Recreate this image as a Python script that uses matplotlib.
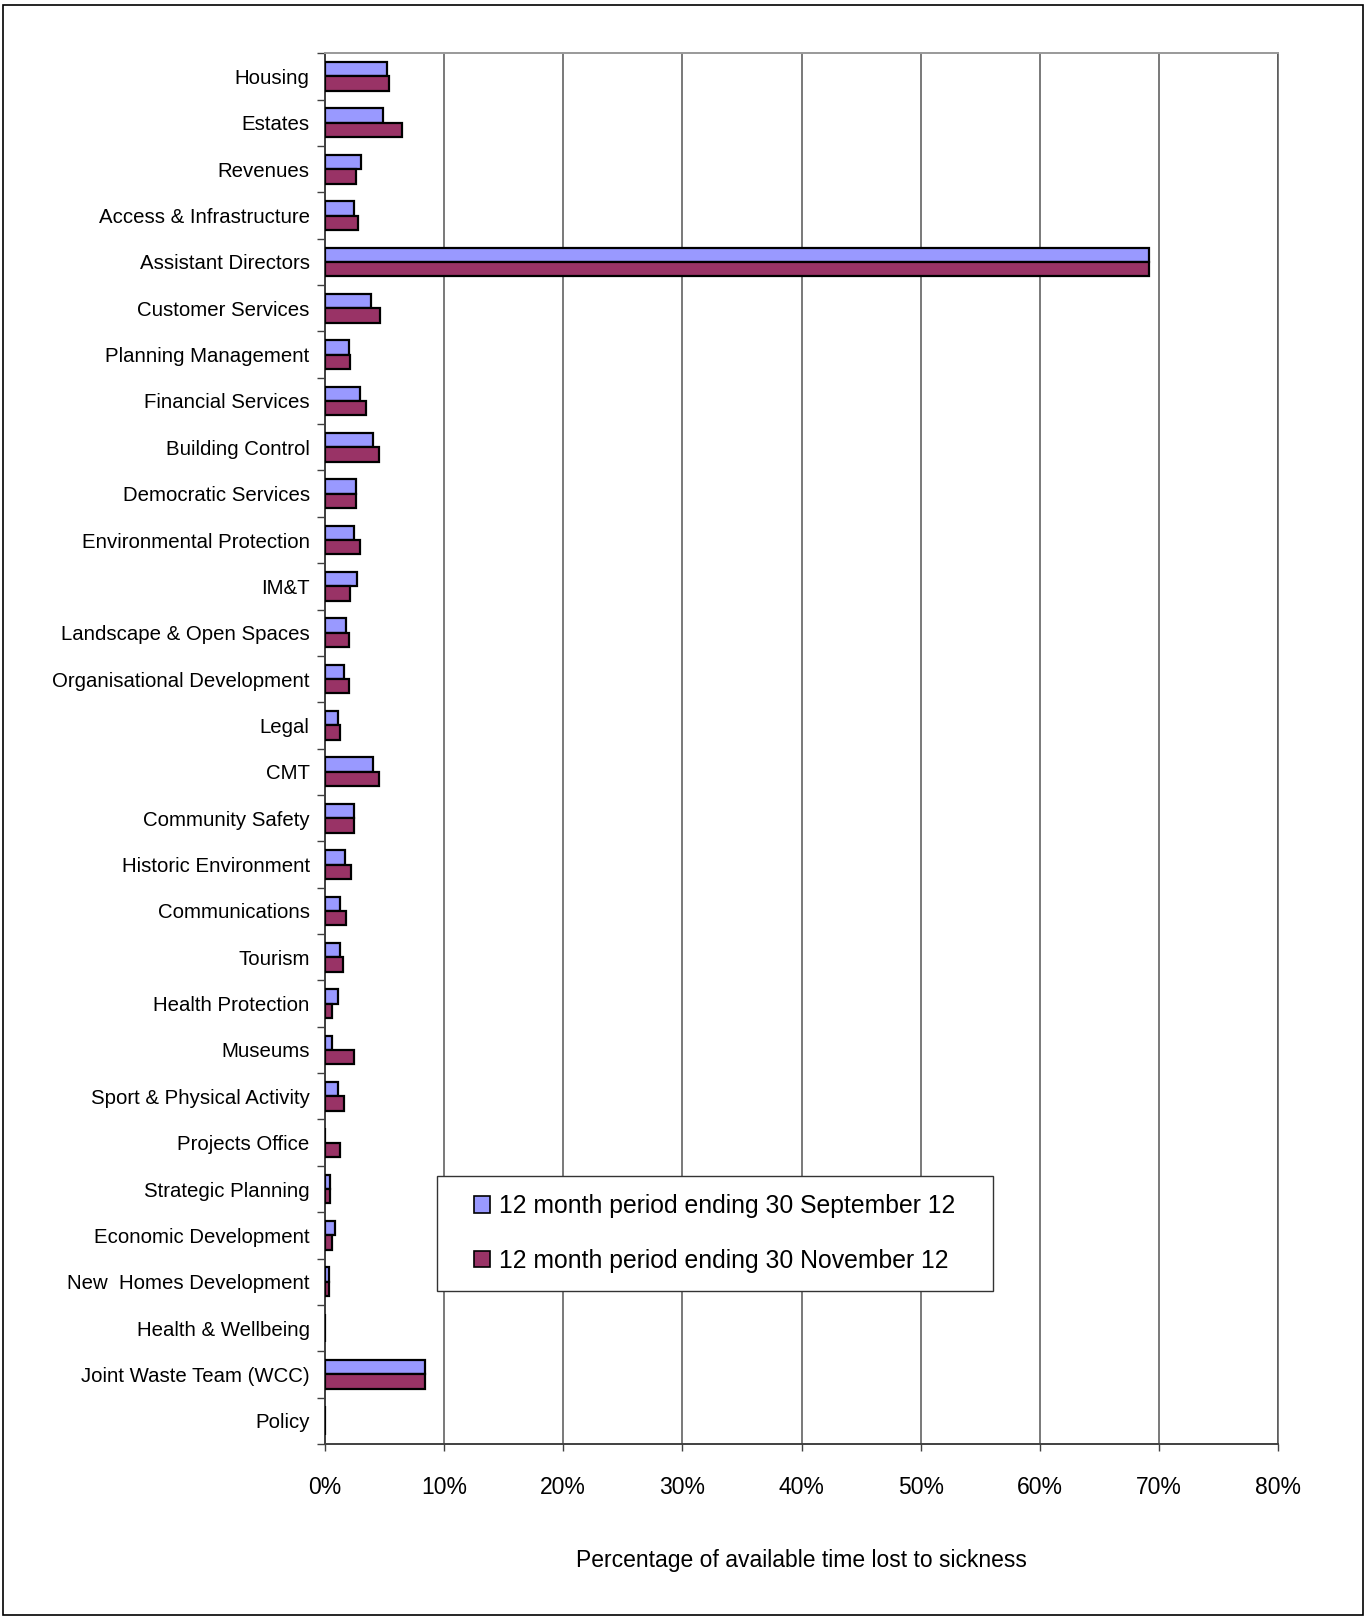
import matplotlib
matplotlib.use('Agg')
import matplotlib.pyplot as plt
from matplotlib.patches import Rectangle, Patch
from matplotlib.ticker import FixedLocator, FuncFormatter
import numpy as np

plt.rcParams['font.family'] = ['Liberation Sans', 'DejaVu Sans']

departments = [
    'Housing', 'Estates', 'Revenues', 'Access & Infrastructure',
    'Assistant Directors', 'Customer Services', 'Planning Management',
    'Financial Services', 'Building Control', 'Democratic Services',
    'Environmental Protection', 'IM&T', 'Landscape & Open Spaces',
    'Organisational Development', 'Legal', 'CMT', 'Community Safety',
    'Historic Environment', 'Communications', 'Tourism', 'Health Protection',
    'Museums', 'Sport & Physical Activity', 'Projects Office',
    'Strategic Planning', 'Economic Development', 'New  Homes Development',
    'Health & Wellbeing', 'Joint Waste Team (WCC)', 'Policy',
]

# % of available time lost to sickness
sep_12 = [5.2, 4.9, 3.0, 2.4, 69.2, 3.9, 2.0, 2.9, 4.0, 2.6,
          2.4, 2.7, 1.8, 1.6, 1.1, 4.0, 2.4, 1.7, 1.3, 1.3,
          1.1, 0.6, 1.1, 0.0, 0.45, 0.8, 0.3, 0.0, 8.4, 0.0]
nov_12 = [5.4, 6.5, 2.6, 2.8, 69.2, 4.6, 2.1, 3.4, 4.5, 2.6,
          2.9, 2.1, 2.0, 2.0, 1.3, 4.5, 2.4, 2.2, 1.8, 1.5,
          0.6, 2.4, 1.6, 1.3, 0.45, 0.6, 0.3, 0.0, 8.4, 0.0]

label_sep = '12 month period ending 30 September 12'
label_nov = '12 month period ending 30 November 12'

blue = '#9999FF'
plum = '#993366'

fig = plt.figure(figsize=(13.65, 16.19), dpi=100)
ax = fig.add_axes([0.2381, 0.1081, 0.6982, 0.8590])

# outer border round the whole chart
fig.patches.append(Rectangle((0.0025, 0.0025), 0.996, 0.9945, transform=fig.transFigure,
                             fill=False, edgecolor='black', linewidth=1.2))

y = np.arange(len(departments))
h = 0.31
ax.barh(y - h / 2, sep_12, height=h, color=blue, edgecolor='black', linewidth=1.6, zorder=3)
ax.barh(y + h / 2, nov_12, height=h, color=plum, edgecolor='black', linewidth=1.6, zorder=3)

ax.set_xlim(0, 80)
ax.set_ylim(len(departments) - 0.5, -0.5)

ax.set_xticks(np.arange(0, 81, 10))
ax.xaxis.set_major_formatter(FuncFormatter(lambda v, p: f'{v:.0f}%'))
ax.tick_params(axis='x', direction='out', length=5, width=1, color='#404040',
               labelsize=16.5, pad=18)
ax.grid(axis='x', color='#555555', linewidth=1.1, zorder=0)

ax.set_yticks(y)
ax.set_yticklabels(departments)
ax.yaxis.set_minor_locator(FixedLocator(np.arange(len(departments) + 1) - 0.5))
ax.tick_params(axis='y', which='major', length=0, labelsize=14.7, pad=11)
ax.tick_params(axis='y', which='minor', direction='out', length=6, width=1, color='#404040')

for side in ('left', 'bottom'):
    ax.spines[side].set_color('#404040')
    ax.spines[side].set_linewidth(1.4)
ax.spines['top'].set_color('#999999')
ax.spines['top'].set_linewidth(1.4)
ax.spines['right'].set_color('#555555')
ax.spines['right'].set_linewidth(1.1)

ax.set_xlabel('Percentage of available time lost to sickness', fontsize=16.5, labelpad=36)

# legend box
ax.add_patch(Rectangle((0.1175, 0.1098), 0.5835, 0.0832, transform=ax.transAxes,
                       facecolor='white', edgecolor='#333333', linewidth=1.0,
                       zorder=5, clip_on=False))
handles = [Patch(facecolor=blue, edgecolor='black', linewidth=1.2, label=label_sep),
           Patch(facecolor=plum, edgecolor='black', linewidth=1.2, label=label_nov)]
leg = ax.legend(handles=handles, loc='center', bbox_to_anchor=(0.409, 0.1514),
                frameon=False, fontsize=17.8, handlelength=0.65, handleheight=0.65,
                handletextpad=0.35, labelspacing=1.25, borderpad=0)
leg.set_zorder(6)

fig.savefig('out.png', dpi=100)
